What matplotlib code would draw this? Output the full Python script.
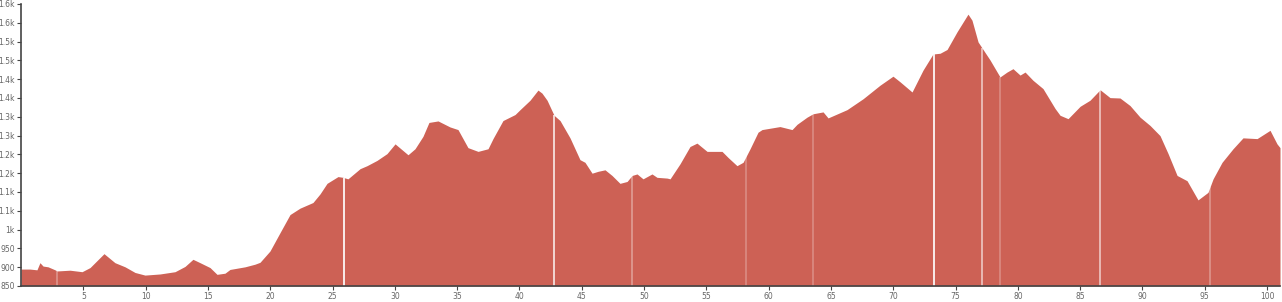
import numpy as np
import matplotlib
matplotlib.use("Agg")
import matplotlib.pyplot as plt

# elevation profile, distance in km, elevation in m
dist_km = [0.0, 0.72, 1.28, 1.52, 1.77, 2.17, 2.73, 2.89, 3.93, 4.90, 5.54, 6.66,
           7.54, 8.35, 9.15, 9.95, 11.16, 12.36, 13.16, 13.80, 14.37, 15.17, 15.73,
           16.37, 16.77, 17.98, 18.78, 19.18, 19.98, 20.79, 21.59, 22.39, 23.43,
           24.00, 24.56, 25.44, 25.84, 26.24, 27.21, 27.77, 28.57, 29.37, 30.02,
           31.06, 31.62, 32.26, 32.74, 33.47, 34.43, 35.07, 35.87, 36.68, 37.48,
           37.88, 38.68, 39.65, 40.05, 40.85, 41.49, 41.81, 42.22, 42.78, 43.26,
           44.06, 44.86, 45.26, 45.83, 46.31, 46.87, 47.43, 48.07, 48.64, 49.04,
           49.44, 49.92, 50.64, 51.04, 51.85, 52.09, 52.89, 53.69, 54.25, 55.06,
           56.26, 56.74, 57.46, 57.95, 58.51, 59.15, 59.47, 60.91, 61.88, 62.28,
           63.08, 63.56, 64.37, 64.77, 66.29, 67.58, 68.94, 69.98, 70.55, 71.51,
           72.39, 73.19, 73.76, 74.32, 75.12, 76.00, 76.32, 76.81, 77.21, 77.77,
           78.57, 79.13, 79.61, 80.18, 80.58, 81.22, 82.02, 82.99, 83.39, 84.03,
           85.00, 85.79, 86.60, 87.40, 88.20, 89.00, 89.81, 90.61, 91.41, 92.06,
           92.78, 93.58, 94.46, 95.26, 95.67, 96.39, 97.27, 98.07, 99.20, 100.24,
           100.80, 101.04]
elev_m = [895, 895, 893, 912, 903, 901, 893, 890, 892, 888, 899, 936,
          912, 901, 886, 879, 882, 888, 902, 921, 912, 899, 881,
          884, 894, 901, 908, 913, 943, 992, 1040, 1057, 1072,
          1095, 1123, 1141, 1139, 1135, 1162, 1170, 1184, 1202, 1228,
          1199, 1215, 1248, 1285, 1289, 1273, 1266, 1218, 1208, 1215,
          1242, 1290, 1306, 1319, 1344, 1371, 1363, 1344, 1304, 1290,
          1244, 1186, 1179, 1150, 1155, 1159, 1144, 1123, 1128, 1144,
          1148, 1135, 1148, 1139, 1137, 1135, 1175, 1221, 1230, 1208,
          1208, 1192, 1170, 1179, 1215, 1259, 1266, 1274, 1266, 1280,
          1299, 1308, 1313, 1297, 1319, 1348, 1384, 1408, 1393, 1366,
          1424, 1467, 1469, 1479, 1526, 1573, 1557, 1499, 1479, 1451,
          1406, 1419, 1428, 1411, 1419, 1397, 1375, 1322, 1304, 1295,
          1328, 1344, 1372, 1351, 1350, 1330, 1299, 1277, 1250, 1202,
          1144, 1130, 1079, 1099, 1135, 1179, 1215, 1244, 1242, 1264,
          1228, 1218]

# segment joins (km) and how visible the seam is
seam_km = [2.89, 25.92, 42.78, 49.04, 58.19, 63.56, 73.27, 77.13, 78.57, 86.60, 95.43]
seam_alpha = [0.3, 0.95, 0.8, 0.35, 0.25, 0.25, 0.95, 0.6, 0.25, 0.6, 0.3]

x_ticks = list(range(5, 101, 5))
y_ticks = list(range(850, 1601, 50))
y_tick_labels = ["850", "900", "950", "1k", "1.1k", "1.1k", "1.2k", "1.2k", "1.3k",
                 "1.3k", "1.4k", "1.4k", "1.5k", "1.5k", "1.6k", "1.6k"]

fill_color = "#cd6155"

fig = plt.figure(figsize=(12.82, 3.02), dpi=100)
ax = fig.add_axes([21 / 1282, 16 / 302, 1259 / 1282, 282 / 302])

ax.fill_between(dist_km, 850, elev_m, color=fill_color, lw=0)

seam_top = np.interp(seam_km, dist_km, elev_m)
for k, top, a in zip(seam_km, seam_top, seam_alpha):
    ax.vlines(k, 850, top, color="white", lw=1.3, alpha=a)

ax.set_xlim(0, 101.04)
ax.set_ylim(850, 1600)
ax.set_xticks(x_ticks)
ax.set_xticklabels([str(t) for t in x_ticks])
ax.set_yticks(y_ticks)
ax.set_yticklabels(y_tick_labels)

for s in ["top", "right"]:
    ax.spines[s].set_visible(False)
ax.spines["left"].set_color("#444444")
ax.spines["bottom"].set_color("#444444")
ax.spines["left"].set_linewidth(1.2)
ax.spines["bottom"].set_linewidth(1.2)
ax.tick_params(axis="both", length=3, width=0.8, color="#444444",
               labelsize=5.5, labelcolor="#666666", pad=1.5)

fig.savefig("out.png", dpi=100)
